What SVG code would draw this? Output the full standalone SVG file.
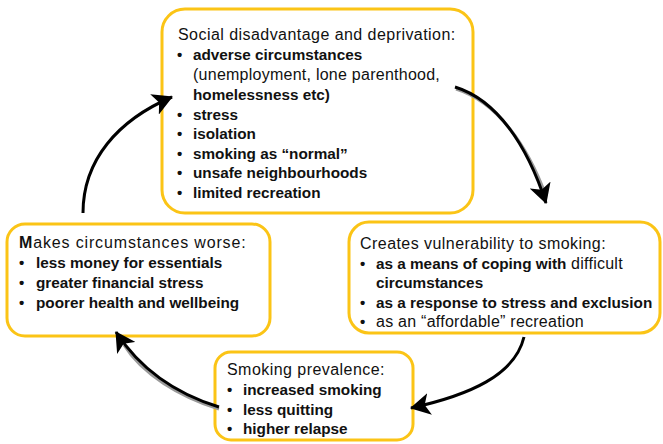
<svg xmlns="http://www.w3.org/2000/svg" width="663" height="444" viewBox="0 0 663 444">
  <style>
    .box { fill: #ffffff; stroke: #FBC416; stroke-width: 3; }
    text { font-family: "Liberation Sans", Arial, sans-serif; fill: #111111; }
    .title { font-size: 16px; letter-spacing: 0.45px; }
    .b { font-size: 15.3px; font-weight: bold; }
    .r { font-size: 16px; font-weight: normal; letter-spacing: 0.25px; }
    .dot { font-size: 15px; font-weight: bold; }
    .arrow { fill: none; stroke: #000000; stroke-width: 3; marker-end: url(#head); }
    .shade { fill: none; stroke: #9a9a9a; stroke-width: 3; }
  </style>
  <defs>
    <marker id="head" markerUnits="userSpaceOnUse" viewBox="0 0 20 22" refX="19" refY="11" markerWidth="20" markerHeight="22" orient="auto">
      <path d="M0,0 L20,11 L0,22 L5,11 Z" fill="#000000"/>
    </marker>
  </defs>

  <g id="node-deprivation">
    <rect class="box" x="162" y="9" width="311" height="204" rx="23"/>
    <text class="title" x="178" y="40">Social disadvantage and deprivation:</text>
    <text class="dot" x="177" y="60">•</text>
    <text class="b" x="193" y="60">adverse circumstances</text>
    <text class="r" x="193" y="80">(unemployment, lone parenthood,</text>
    <text class="b" x="193" y="100">homelessness etc)</text>
    <text class="dot" x="177" y="119.5">•</text>
    <text class="b" x="193" y="119.5">stress</text>
    <text class="dot" x="177" y="139">•</text>
    <text class="b" x="193" y="139">isolation</text>
    <text class="dot" x="177" y="158.5">•</text>
    <text class="b" x="193" y="158.5">smoking as “normal”</text>
    <text class="dot" x="177" y="178">•</text>
    <text class="b" x="193" y="178">unsafe neighbourhoods</text>
    <text class="dot" x="177" y="197.5">•</text>
    <text class="b" x="193" y="197.5">limited recreation</text>
  </g>

  <g id="node-vulnerability">
    <rect class="box" x="349" y="222" width="311" height="111" rx="20"/>
    <text class="title" x="360" y="249">Creates vulnerability to smoking:</text>
    <text class="dot" x="360" y="269">•</text>
    <text x="376" y="269"><tspan class="b">as a means of coping with</tspan><tspan class="r"> difficult</tspan></text>
    <text class="b" x="376" y="288">circumstances</text>
    <text class="dot" x="360" y="308">•</text>
    <text class="b" x="376" y="308">as a response to stress and exclusion</text>
    <text class="dot" x="360" y="327">•</text>
    <text class="r" x="376" y="327">as an “affordable” recreation</text>
  </g>

  <g id="node-prevalence">
    <rect class="box" x="215" y="352" width="198" height="88" rx="16"/>
    <text class="title" x="227" y="375">Smoking prevalence:</text>
    <text class="dot" x="227" y="395">•</text>
    <text class="b" x="243" y="395">increased smoking</text>
    <text class="dot" x="227" y="415">•</text>
    <text class="b" x="243" y="415">less quitting</text>
    <text class="dot" x="227" y="434">•</text>
    <text class="b" x="243" y="434">higher relapse</text>
  </g>

  <g id="node-worse">
    <rect class="box" x="7" y="224" width="263" height="112" rx="18"/>
    <text class="title" x="19" y="248" style="letter-spacing:0.85px"><tspan font-weight="bold">M</tspan>akes circumstances worse:</text>
    <text class="dot" x="19" y="268">•</text>
    <text class="b" x="36" y="268">less money for essentials</text>
    <text class="dot" x="19" y="288">•</text>
    <text class="b" x="36" y="288">greater financial stress</text>
    <text class="dot" x="19" y="308">•</text>
    <text class="b" x="36" y="308">poorer health and wellbeing</text>
  </g>

  <g id="connectors">
    <!-- soft grey edge under the curved arrows -->
    <path class="shade" d="M456,89 C498,102 528,147 546,196"/>
    <path class="shade" d="M219,409 C180,397 142,374 124,345"/>
    <path class="arrow" d="M455,87 C497,100 527,145 546,203"/>
    <path class="arrow" d="M524,337 C515,375 470,395 411,408"/>
    <path class="arrow" d="M219,407 C180,395 142,372 116,332"/>
    <path class="arrow" d="M83,213 C83,160 118,120 172,97"/>
  </g>
</svg>
